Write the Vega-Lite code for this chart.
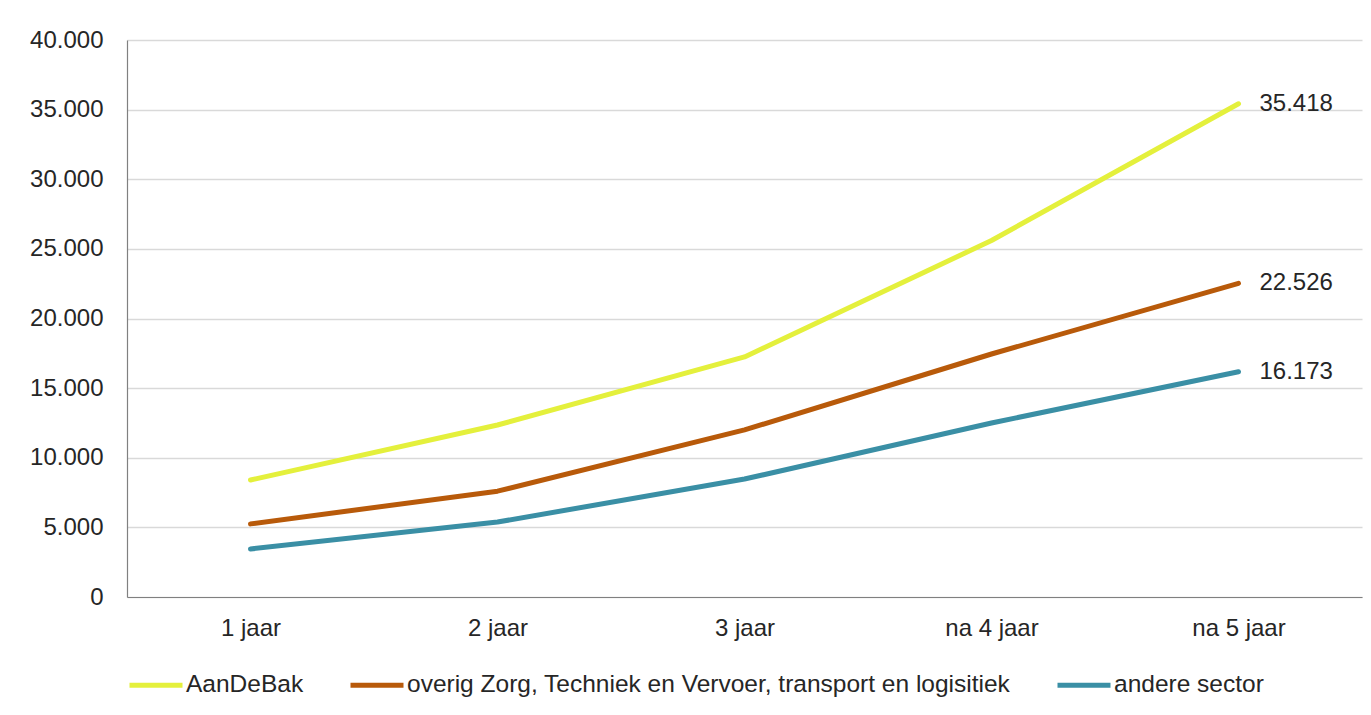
{
  "$schema": "https://vega.github.io/schema/vega-lite/v6.json",
  "width": 1235,
  "height": 557,
  "autosize": "none",
  "padding": {"left": 127, "top": 40, "right": 9, "bottom": 118},
  "background": "white",
  "config": {
    "locale": {"number": {"decimal": ",", "thousands": ".", "grouping": [3], "currency": ["€", ""]}},
    "font": "Liberation Sans",
    "view": {"stroke": null},
    "axis": {"labelFont": "Liberation Sans", "labelFontSize": 24, "labelColor": "#262626", "ticks": false, "domainColor": "#808080", "domainWidth": 1.2, "gridColor": "#d9d9d9", "gridWidth": 1.5},
    "legend": {"labelFont": "Liberation Sans", "labelFontSize": 24.5, "labelColor": "#262626", "labelLimit": 0}
  },
  "data": {
    "values": [
      {"periode": "1 jaar", "groep": "AanDeBak", "waarde": 8400},
      {"periode": "2 jaar", "groep": "AanDeBak", "waarde": 12350},
      {"periode": "3 jaar", "groep": "AanDeBak", "waarde": 17240},
      {"periode": "na 4 jaar", "groep": "AanDeBak", "waarde": 25600},
      {"periode": "na 5 jaar", "groep": "AanDeBak", "waarde": 35418},
      {"periode": "1 jaar", "groep": "overig Zorg, Techniek en Vervoer, transport en logisitiek", "waarde": 5250},
      {"periode": "2 jaar", "groep": "overig Zorg, Techniek en Vervoer, transport en logisitiek", "waarde": 7600},
      {"periode": "3 jaar", "groep": "overig Zorg, Techniek en Vervoer, transport en logisitiek", "waarde": 12000},
      {"periode": "na 4 jaar", "groep": "overig Zorg, Techniek en Vervoer, transport en logisitiek", "waarde": 17450},
      {"periode": "na 5 jaar", "groep": "overig Zorg, Techniek en Vervoer, transport en logisitiek", "waarde": 22526},
      {"periode": "1 jaar", "groep": "andere sector", "waarde": 3450},
      {"periode": "2 jaar", "groep": "andere sector", "waarde": 5380},
      {"periode": "3 jaar", "groep": "andere sector", "waarde": 8470},
      {"periode": "na 4 jaar", "groep": "andere sector", "waarde": 12500},
      {"periode": "na 5 jaar", "groep": "andere sector", "waarde": 16173}
    ]
  },
  "encoding": {
    "x": {"field": "periode", "type": "ordinal", "sort": ["1 jaar", "2 jaar", "3 jaar", "na 4 jaar", "na 5 jaar"], "scale": {"type": "point", "padding": 0.5}, "axis": {"title": null, "labelAngle": 0, "labelPadding": 19, "grid": false}},
    "y": {"field": "waarde", "type": "quantitative", "scale": {"domain": [0, 40000]}, "axis": {"title": null, "values": [0, 5000, 10000, 15000, 20000, 25000, 30000, 35000, 40000], "format": ",d", "labelPadding": 24, "grid": true}}
  },
  "layer": [
    {
      "mark": {"type": "line", "strokeWidth": 5, "strokeCap": "round", "strokeJoin": "round"},
      "encoding": {
        "color": {"field": "groep", "type": "nominal",
          "scale": {"domain": ["AanDeBak", "overig Zorg, Techniek en Vervoer, transport en logisitiek", "andere sector"], "range": ["#e4f03c", "#b85a0a", "#3a8fa5"]},
          "legend": {"title": null, "orient": "bottom", "direction": "horizontal", "symbolType": "stroke", "symbolSize": 2809, "symbolStrokeWidth": 5, "columnPadding": 36, "labelOffset": 1, "offset": 16}}
      }
    },
    {
      "transform": [{"filter": "datum.periode === 'na 5 jaar'"}],
      "mark": {"type": "text", "align": "left", "baseline": "middle", "dx": 21, "fontSize": 24, "font": "Liberation Sans", "color": "#262626"},
      "encoding": {"text": {"field": "waarde", "type": "quantitative", "format": ",d"}}
    }
  ]
}
